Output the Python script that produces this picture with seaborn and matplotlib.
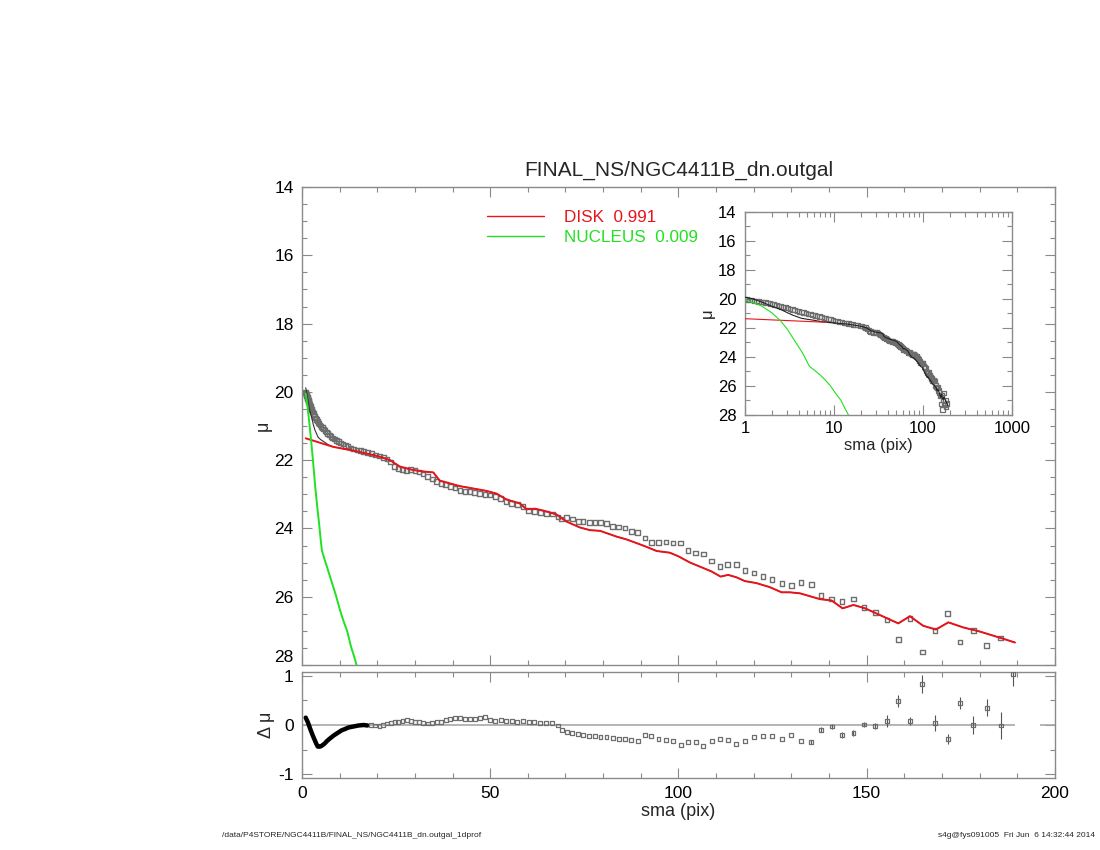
import matplotlib
matplotlib.use("Agg")
import matplotlib.pyplot as plt
from matplotlib.lines import Line2D
from matplotlib.ticker import MultipleLocator, FixedLocator, NullFormatter
import seaborn as sns
import numpy as np

# ---- data ----
# observed surface brightness profile (sma in pix, mu in mag/arcsec^2)
sma = [1.00, 1.06, 1.12, 1.19, 1.26, 1.34, 1.42, 1.50, 1.59, 1.69, 1.79, 1.90,
       2.01, 2.13, 2.26, 2.40, 2.54, 2.69, 2.85, 3.03, 3.21, 3.40, 3.60, 3.82,
       4.05, 4.29, 4.55, 4.82, 5.11, 5.42, 5.74, 6.09, 6.45, 6.84, 7.25, 7.69,
       8.15, 8.64, 9.15, 9.70, 10.3, 10.9, 11.5, 12.2, 13.0, 13.7, 14.6, 15.5,
       16.4, 17.4, 18.4, 19.5,
       20.6, 21.6, 22.6, 23.6, 24.6, 25.6, 26.7, 27.8, 28.9, 30.0, 31.1, 32.2,
       33.4, 34.6, 35.8, 37.0, 38.2, 39.4, 40.7, 42.0, 43.3, 44.6, 45.9, 47.2,
       48.6, 50.0, 51.4, 52.8, 54.2, 55.7, 57.2, 58.7, 60.2, 61.7, 63.3, 64.9,
       66.5, 68.0,
       69.0, 70.3, 71.8, 73.4, 74.7, 76.3, 77.8, 79.3, 80.9, 82.5, 84.1, 85.8,
       87.5, 89.2, 91.1, 92.8, 94.7, 96.7, 98.6, 100.6, 102.5, 104.6, 106.6,
       108.8, 111.0, 113.1, 115.4, 117.7, 120.1, 122.5, 124.9, 127.5, 130.0,
       132.6, 135.3, 137.9, 140.7, 143.5, 146.5, 149.3, 152.3, 155.4, 158.4,
       161.5, 164.8, 168.2, 171.5, 174.8, 178.3, 181.9, 185.6, 188.9]
mu = [20.02, 20.04, 20.06, 20.09, 20.12, 20.14, 20.17, 20.19, 20.22, 20.25, 20.28, 20.32,
      20.36, 20.39, 20.43, 20.47, 20.52, 20.55, 20.59, 20.64, 20.68, 20.72, 20.76, 20.81,
      20.85, 20.89, 20.92, 20.97, 21.02, 21.05, 21.09, 21.13, 21.18, 21.22, 21.26, 21.30,
      21.35, 21.38, 21.42, 21.46, 21.50, 21.53, 21.57, 21.60, 21.64, 21.67, 21.70, 21.72,
      21.75, 21.78, 21.81, 21.85,
      21.88, 21.92, 21.97, 22.05, 22.18, 22.25, 22.27, 22.30, 22.28, 22.31, 22.35, 22.40,
      22.47, 22.55, 22.63, 22.68, 22.72, 22.77, 22.82, 22.88, 22.91, 22.92, 22.94, 22.97,
      23.01, 23.02, 23.06, 23.13, 23.21, 23.27, 23.30, 23.36, 23.48, 23.51, 23.53, 23.56,
      23.58, 23.66,
      23.72, 23.68, 23.72, 23.80, 23.80, 23.83, 23.83, 23.82, 23.85, 23.94, 23.96, 23.99,
      24.09, 24.12, 24.28, 24.41, 24.41, 24.40, 24.43, 24.43, 24.65, 24.72, 24.75,
      24.95, 25.12, 25.05, 25.05, 25.23, 25.31, 25.41, 25.49, 25.61, 25.67,
      25.59, 25.64, 25.96, 26.07, 26.14, 26.07, 26.32, 26.46, 26.68, 27.25,
      26.63, 27.62, 26.98, 26.49, 27.32, 26.98, 27.43, 27.21, 28.35]

# disk component
disk_sma = [1.0, 8.3, 13.6, 18.9, 20.7, 23.4, 26.0, 29.6, 32.2, 34.9, 36.6, 41.9,
            45.5, 49.0, 51.7, 54.3, 57.9, 59.7, 61.9, 64.5, 67.6, 70.3, 73.8, 76.5,
            79.2, 83.6, 86.2, 91.1, 94.2, 97.7, 99.9, 103.1, 106.2, 108.8, 111.2,
            113.2, 115.4, 117.6, 120.7, 124.3, 127.4, 129.6, 132.3, 137.6, 140.7,
            143.6, 146.5, 149.6, 158.4, 161.5, 165.0, 168.4, 171.7, 175.7, 180.1,
            185.4, 189.4]
disk_mu = [21.36, 21.61, 21.72, 21.85, 21.90, 22.00, 22.19, 22.29, 22.33, 22.36, 22.60, 22.76,
           22.83, 22.90, 22.98, 23.15, 23.27, 23.44, 23.42, 23.49, 23.59, 23.80, 23.97, 24.05,
           24.07, 24.24, 24.32, 24.52, 24.66, 24.71, 24.81, 25.00, 25.14, 25.26, 25.41,
           25.36, 25.43, 25.54, 25.60, 25.72, 25.87, 25.87, 25.90, 26.07, 26.11,
           26.34, 26.24, 26.34, 26.78, 26.57, 26.85, 26.96, 26.75, 26.90, 27.02,
           27.20, 27.34]

# nucleus component
nuc_sma = [1.0, 1.5, 2.0, 2.5, 3.0, 3.5, 4.0, 4.5, 5.0, 5.3, 6.0, 7.0, 8.0, 9.0,
           10.0, 11.0, 12.0, 13.0, 14.0, 15.0]
nuc_mu = [20.05, 20.45, 20.95, 21.50, 22.10, 22.75, 23.30, 23.80, 24.35, 24.65, 24.90,
          25.25, 25.60, 25.95, 26.35, 26.70, 27.00, 27.45, 27.80, 28.20]

# total model, inner part (beyond it the total follows the disk)
tot_sma_in = [1.0, 1.24, 1.6, 2.0, 2.57, 3.0, 3.45, 4.3, 5.0, 5.7, 7.0]
tot_mu_in = [19.88, 20.00, 20.25, 20.50, 20.75, 20.95, 21.12, 21.33, 21.40, 21.45, 21.55]

# residuals (data - model)
res_sma_in = [1.0, 1.6, 2.2, 2.8, 3.3, 3.8, 4.2, 4.8, 5.3, 6.0, 6.6, 7.5, 8.5, 9.5,
              10.5, 11.5, 12.4, 13.7, 15.0, 16.4, 17.4]
res_in = [0.15, 0.05, -0.08, -0.20, -0.29, -0.38, -0.44, -0.44, -0.42, -0.38, -0.33,
          -0.27, -0.21, -0.16, -0.11, -0.08, -0.05, -0.03, -0.01, 0.00, -0.01]
res_sma = [18.4, 19.5, 20.6, 21.6, 22.6, 23.6, 24.6, 25.6, 26.7, 27.8,
           28.9, 30.0, 31.1, 32.2, 33.4, 34.6, 35.8, 37.0, 38.2, 39.4, 40.7, 42.0,
           43.3, 44.6, 45.9, 47.2, 48.6, 50.0, 51.4, 52.8, 54.2, 55.7, 57.2, 58.7,
           60.2, 61.7, 63.3, 64.9, 66.5, 68.0,
           69.0, 70.3, 71.8, 73.4, 74.7, 76.3, 77.8, 79.3, 80.9, 82.5, 84.1, 85.8,
           87.5, 89.2, 91.1, 92.8, 94.7, 96.7, 98.6, 100.6, 102.5, 104.6, 106.6,
           108.8, 111.0, 113.1, 115.4, 117.7, 120.1, 122.5, 124.9, 127.5, 130.0,
           132.6, 135.3, 137.9, 140.7, 143.5, 146.5, 149.3, 152.3, 155.4, 158.4,
           161.5, 164.8, 168.2, 171.5, 174.8, 178.3, 181.9, 185.6, 188.9]
res = [0.00, -0.01, -0.02, 0.00, 0.03, 0.04, 0.06, 0.07, 0.09, 0.10,
       0.08, 0.07, 0.07, 0.05, 0.03, 0.04, 0.06, 0.07, 0.10, 0.12, 0.15, 0.14,
       0.13, 0.13, 0.12, 0.14, 0.16, 0.11, 0.09, 0.10, 0.09, 0.09, 0.07, 0.08,
       0.06, 0.07, 0.05, 0.05, 0.04, -0.01,
       -0.10, -0.14, -0.17, -0.19, -0.21, -0.22, -0.23, -0.24, -0.25, -0.27, -0.29, -0.29,
       -0.30, -0.33, -0.21, -0.22, -0.29, -0.31, -0.32, -0.40, -0.34, -0.34, -0.43,
       -0.32, -0.29, -0.30, -0.39, -0.32, -0.25, -0.23, -0.23, -0.29, -0.20,
       -0.33, -0.34, -0.10, -0.03, -0.20, -0.17, 0.01, -0.02, 0.08, 0.49,
       0.08, 0.83, 0.04, -0.29, 0.45, 0.00, 0.35, -0.01, 1.03]
# error bars of the outermost residual points
res_err = [0.04, 0.05, 0.05, 0.06, 0.06, 0.06, 0.06, 0.12, 0.13, 0.08, 0.18, 0.17,
           0.10, 0.13, 0.19, 0.17, 0.27, 0.24]

title = "FINAL_NS/NGC4411B_dn.outgal"
disk_label = "DISK  0.991"
nuc_label = "NUCLEUS  0.009"
footer_left = "/data/P4STORE/NGC4411B/FINAL_NS/NGC4411B_dn.outgal_1dprof"
footer_right = "s4g@fys091005  Fri Jun  6 14:32:44 2014"

RED = "#e8141c"
GREEN = "#22e022"
PT = "#6e6e6e"
FRAME = "#8a8a8a"

sns.set_style("ticks")
plt.rcParams['font.family'] = ['Liberation Sans', 'DejaVu Sans']
plt.rcParams['axes.unicode_minus'] = False
plt.rcParams['axes.edgecolor'] = FRAME
plt.rcParams['axes.linewidth'] = 1.0
plt.rcParams['xtick.color'] = FRAME
plt.rcParams['ytick.color'] = FRAME
plt.rcParams['xtick.labelcolor'] = 'black'
plt.rcParams['ytick.labelcolor'] = 'black'


def idl_ticks(ax, labelsize=12):
    ax.tick_params(which='both', direction='in', top=True, right=True,
                   labelsize=labelsize, pad=6)
    ax.tick_params(which='major', length=7, width=0.8)
    ax.tick_params(which='minor', length=3.5, width=0.8)


fig = plt.figure(figsize=(11, 8.5), dpi=100)
ax = fig.add_axes([0.2745, 0.2176, 0.6845, 0.5624])
axr = fig.add_axes([0.2745, 0.0847, 0.6845, 0.1247])
axi = fig.add_axes([0.6773, 0.5118, 0.2427, 0.2388])

sma = np.array(sma)
mu = np.array(mu)
disk_sma = np.array(disk_sma)
disk_mu = np.array(disk_mu)
tot_sma = np.concatenate([tot_sma_in, disk_sma[disk_sma > 7.5]])
tot_mu = np.concatenate([tot_mu_in, disk_mu[disk_sma > 7.5]])

# ---- main panel ----
sns.scatterplot(x=sma, y=mu, ax=ax, marker='s', s=11, facecolors='none',
                edgecolor=PT, linewidth=1.0, zorder=2)
sns.lineplot(x=tot_sma, y=tot_mu, ax=ax, color='#333333', lw=0.8, sort=False,
             estimator=None, zorder=3)
sns.lineplot(x=disk_sma, y=disk_mu, ax=ax, color=RED, lw=1.4, sort=False,
             estimator=None, zorder=4)
sns.lineplot(x=nuc_sma, y=nuc_mu, ax=ax, color=GREEN, lw=1.4, sort=False,
             estimator=None, zorder=4)
ax.set_xlim(0, 200)
ax.set_ylim(28, 14)
ax.xaxis.set_major_locator(MultipleLocator(50))
ax.xaxis.set_minor_locator(MultipleLocator(10))
ax.yaxis.set_major_locator(MultipleLocator(2))
ax.yaxis.set_minor_locator(MultipleLocator(0.5))
ax.set_xticklabels([])
ax.set_xlabel("")
ax.set_ylabel("μ", fontsize=13, labelpad=2)
idl_ticks(ax, 12.5)
ax.set_title(title, fontsize=15, pad=8)

handles = [Line2D([], [], color=RED, lw=1.0), Line2D([], [], color=GREEN, lw=1.0)]
leg = ax.legend(handles, [disk_label, nuc_label], loc='upper left',
                bbox_to_anchor=(0.226, 0.985), frameon=False, fontsize=12.3,
                handlelength=3.3, handletextpad=1.2, labelspacing=0.3,
                labelcolor=[RED, GREEN])

# ---- inset (log sma) ----
sns.scatterplot(x=sma, y=mu, ax=axi, marker='s', s=10, facecolors='none',
                edgecolor=PT, linewidth=0.9, zorder=2)
sns.lineplot(x=tot_sma, y=tot_mu, ax=axi, color='#222222', lw=0.8, sort=False,
             estimator=None, zorder=3)
sns.lineplot(x=disk_sma[disk_sma < 12], y=disk_mu[disk_sma < 12], ax=axi,
             color=RED, lw=0.8, sort=False, estimator=None, zorder=4)
sns.lineplot(x=nuc_sma, y=nuc_mu, ax=axi, color=GREEN, lw=0.8, sort=False,
             estimator=None, zorder=4)
axi.set_xscale('log')
axi.set_xlim(1, 1000)
axi.set_ylim(28, 14)
axi.yaxis.set_major_locator(MultipleLocator(2))
axi.yaxis.set_minor_locator(MultipleLocator(1))
axi.xaxis.set_major_locator(FixedLocator([1, 10, 100, 1000]))
axi.set_xticklabels(["1", "10", "100", "1000"])
axi.xaxis.set_minor_formatter(NullFormatter())
axi.set_xlabel("sma (pix)", fontsize=12, labelpad=2)
axi.set_ylabel("μ", fontsize=12, labelpad=2)
idl_ticks(axi, 12)
axi.tick_params(axis='x', pad=4)

# ---- residual panel ----
axr.hlines(0, 0, 189.4, color='#a8a8a8', lw=1.2, zorder=1)
axr.hlines(0, 196, 200, color='#a8a8a8', lw=1.2, zorder=1)
sns.lineplot(x=res_sma_in, y=res_in, ax=axr, color='black', lw=3.2, sort=False,
             estimator=None, zorder=3)
n_err = len(res_err)
axr.errorbar(res_sma[-n_err:], res[-n_err:], yerr=res_err, fmt='none',
             ecolor='#555555', elinewidth=0.8, zorder=2)
sns.scatterplot(x=res_sma, y=res, ax=axr, marker='s', s=8, facecolors='none',
                edgecolor=PT, linewidth=0.9, zorder=3)
axr.set_xlim(0, 200)
axr.set_ylim(-1.08, 1.08)
axr.xaxis.set_major_locator(MultipleLocator(50))
axr.xaxis.set_minor_locator(MultipleLocator(10))
axr.yaxis.set_major_locator(FixedLocator([-1, 0, 1]))
axr.yaxis.set_minor_locator(MultipleLocator(0.5))
axr.set_xlabel("sma (pix)", fontsize=13, labelpad=1)
axr.set_ylabel("Δ μ", fontsize=13, labelpad=2)
idl_ticks(axr, 12.5)

fig.text(0.202, 0.013, footer_left, fontsize=6, ha='left', va='bottom')
fig.text(0.995, 0.013, footer_right, fontsize=6, ha='right', va='bottom')

# lift the bottom "28" label a little, as in the reference, so it clears the "1" below
fig.canvas.draw()
for tick in ax.yaxis.get_major_ticks():
    if tick.label1.get_text() == "28":
        tick.label1.set_va('bottom')

fig.savefig("out.png", dpi=100)
